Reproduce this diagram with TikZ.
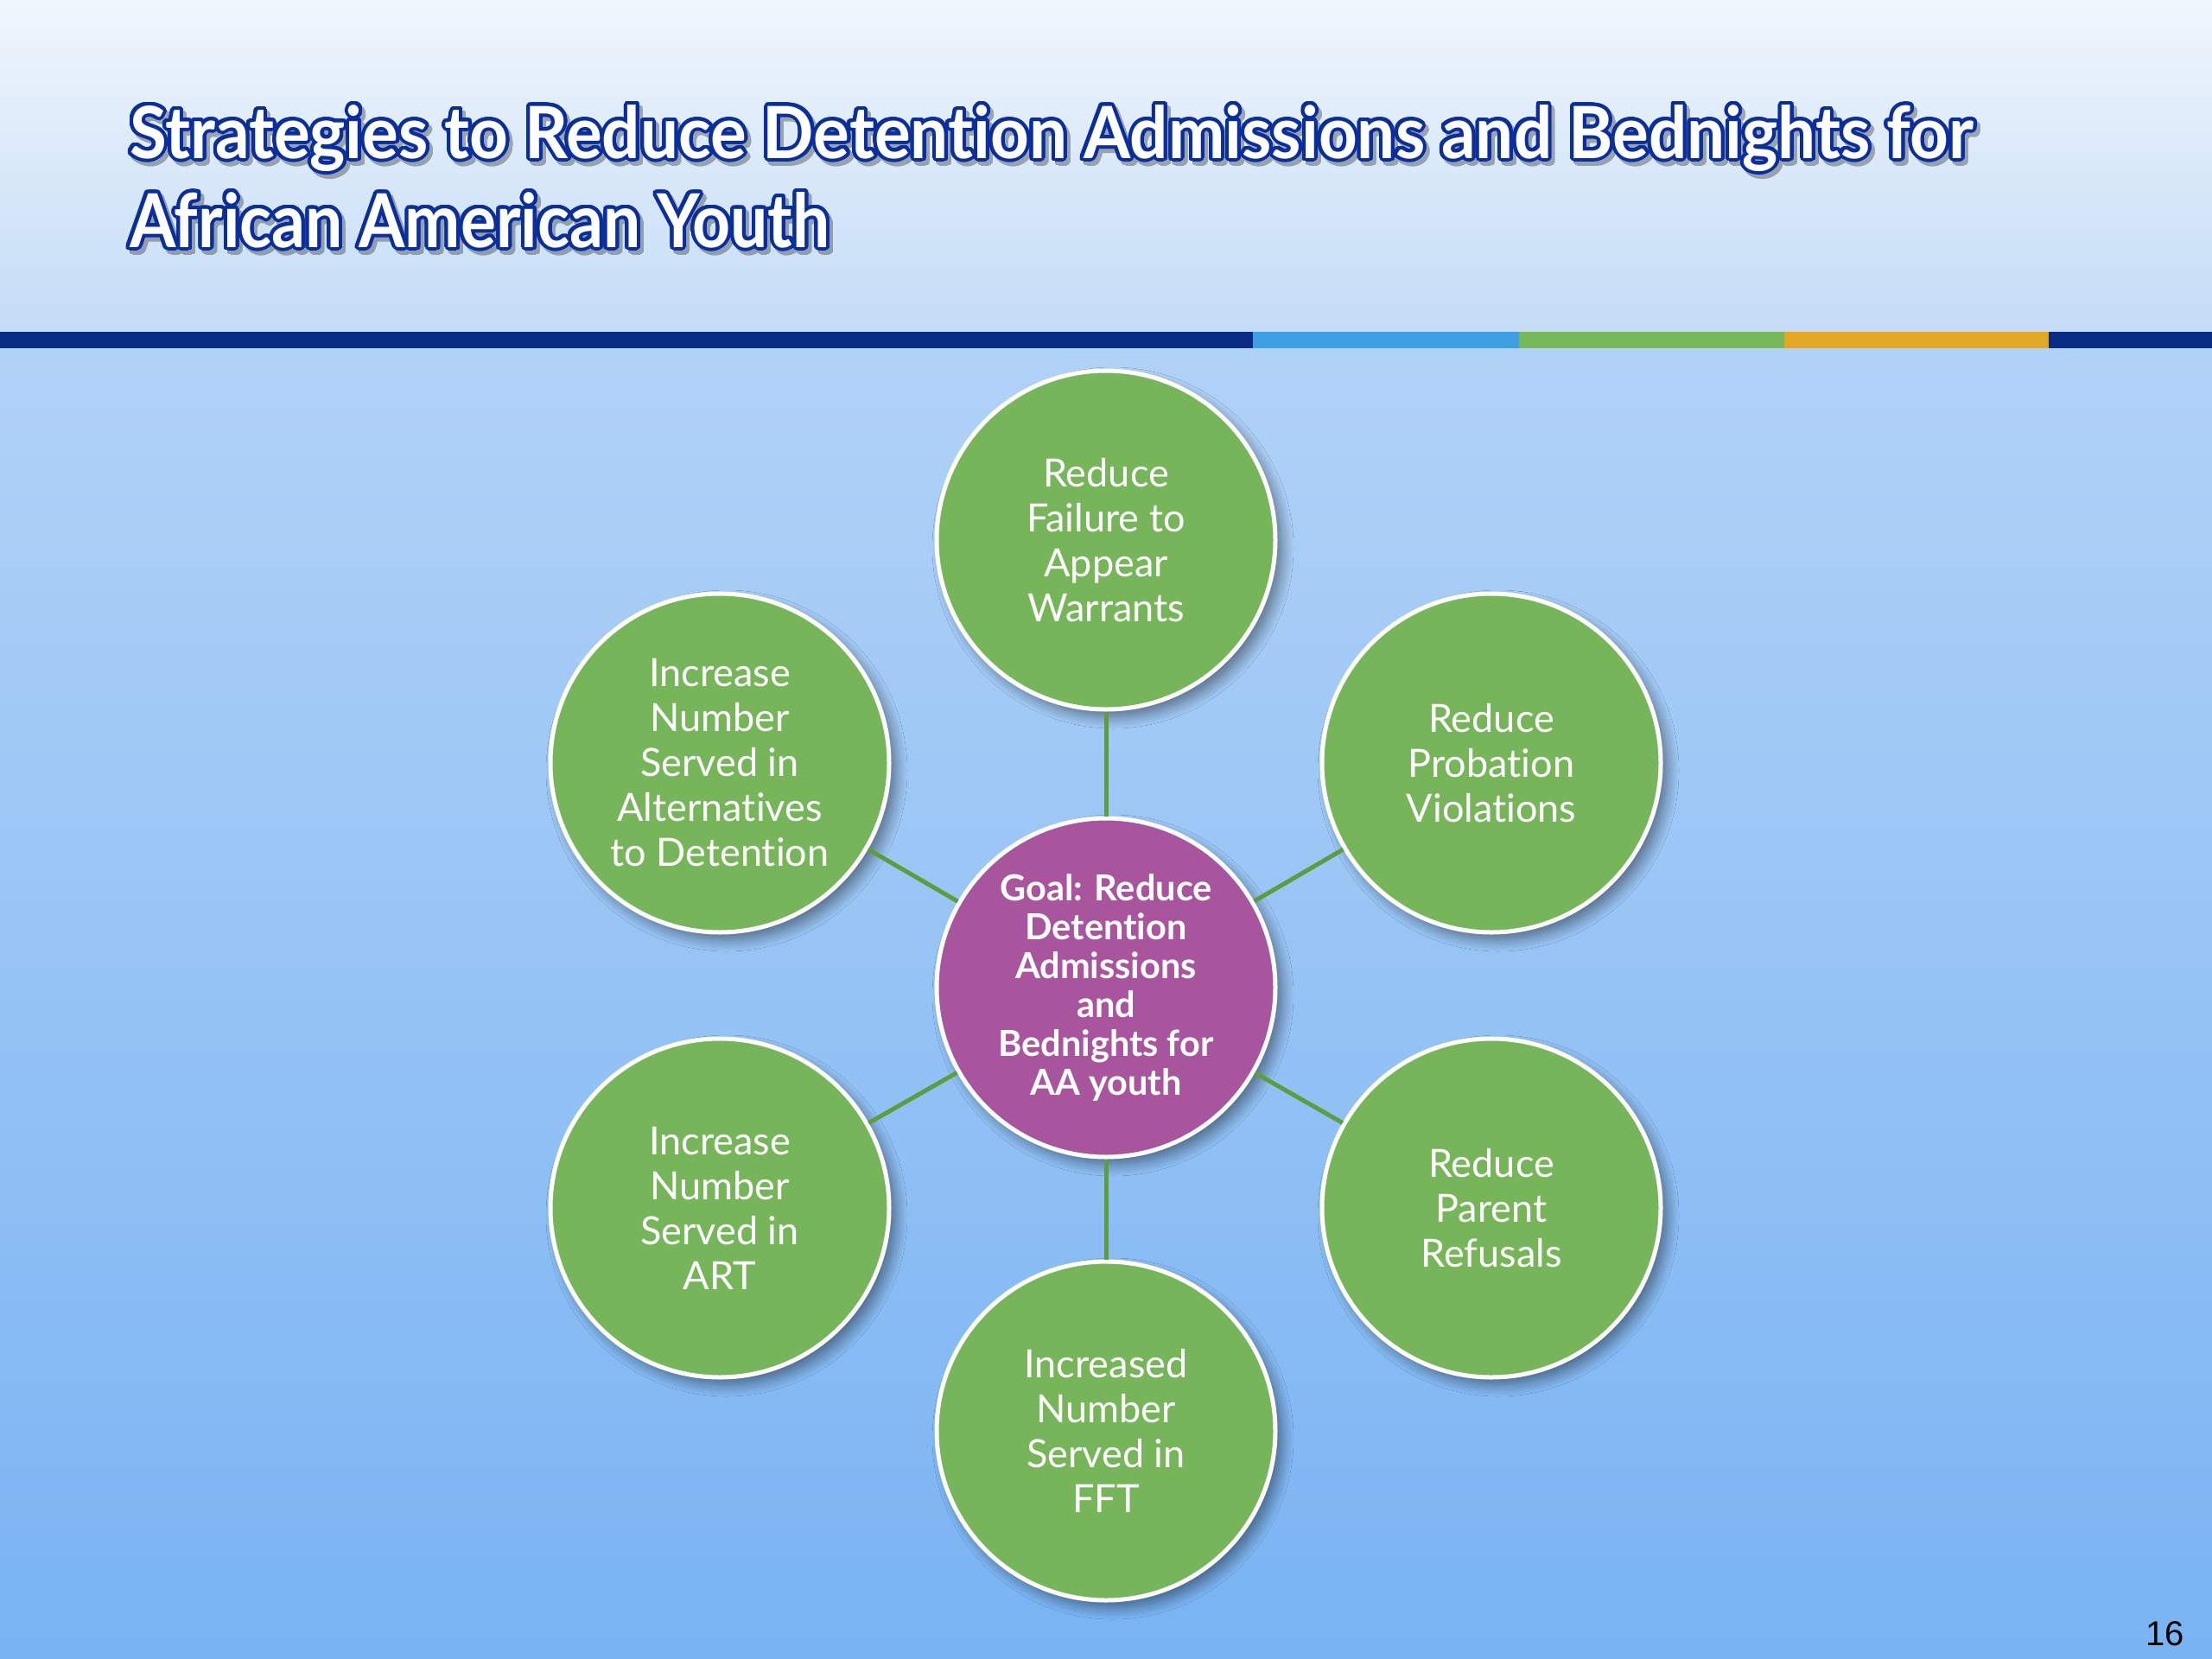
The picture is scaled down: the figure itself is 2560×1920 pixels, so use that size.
\documentclass[tikz,border=0pt]{standalone}
\usepackage{fontspec}
\usepackage{contour}
\usetikzlibrary{shadows.blur}
\setmainfont{Lato}[Ligatures=NoCommon]
\newfontfamily\numfont{Liberation Sans}
\definecolor{navy}{HTML}{0B2C84}
\definecolor{titleblue}{HTML}{0A2E9C}
\definecolor{barblue}{HTML}{3EA0E0}
\definecolor{bargreen}{HTML}{78B85A}
\definecolor{barorange}{HTML}{E3A724}
\definecolor{leafgreen}{HTML}{77B55A}
\definecolor{goalpurple}{HTML}{A8559D}
\definecolor{linkgreen}{HTML}{5E9C40}
\definecolor{topA}{HTML}{F0F6FD}
\definecolor{topB}{HTML}{C4DCF6}
\definecolor{botA}{HTML}{B1D2F7}
\definecolor{botB}{HTML}{79B3F3}
\contourlength{4pt}
\contournumber{32}
\begin{document}
\begin{tikzpicture}[x=1pt,y=-1pt,
  bubble/.style={circle, draw=white, line width=5pt, minimum size=392pt, inner sep=0pt,
    align=center, text=white,
    blur shadow={shadow xshift=8pt, shadow yshift=-9pt, shadow blur steps=12, shadow blur radius=13pt, shadow opacity=45}},
  leaf/.style={bubble, fill=leafgreen, font=\fontsize{45}{52}\selectfont},
  goal/.style={bubble, fill=goalpurple, font=\fontsize{41.5}{45}\selectfont\bfseries},
  link/.style={draw=linkgreen, line width=5pt},
  titletext/.style={anchor=base west, inner sep=0pt}]
\useasboundingbox (0,0) rectangle (2560,1920);
% background
\shade[top color=topA, bottom color=topB] (0,0) rectangle (2560,384);
\shade[top color=botA, bottom color=botB] (0,403) rectangle (2560,1920);
% bar
\fill[navy] (0,384) rectangle (1450,403);
\fill[barblue] (1450,384) rectangle (1758,403);
\fill[bargreen] (1758,384) rectangle (2065,403);
\fill[barorange] (2065,384) rectangle (2371,403);
\fill[navy] (2371,384) rectangle (2560,403);
% title shadow
\begin{scope}[transparency group, opacity=0.3]
\node[titletext, text=black] (ts1) at (154,188) {\contour{black}{\resizebox{2133pt}{62pt}{\bfseries Strategies to Reduce Detention Admissions and Bednights for}}};
\node[titletext, text=black] (ts2) at (154,291) {\contour{black}{\resizebox{810pt}{64pt}{\bfseries African American Youth}}};
\end{scope}
% title
\node[titletext, text=white] (t1) at (150,183) {\contour{titleblue}{\resizebox{2133pt}{62pt}{\bfseries Strategies to Reduce Detention Admissions and Bednights for}}};
\node[titletext, text=white] (t2) at (150,286) {\contour{titleblue}{\resizebox{810pt}{64pt}{\bfseries African American Youth}}};
% nodes
\node[goal] (g) at (1280,1143) {Goal: Reduce\\Detention\\Admissions\\and\\Bednights for\\AA youth};
\node[leaf] (n1) at (1280,625) {Reduce\\Failure to\\Appear\\Warrants};
\node[leaf] (n2) at (1726,883) {Reduce\\Probation\\Violations};
\node[leaf] (n3) at (1726,1398) {Reduce\\Parent\\Refusals};
\node[leaf] (n4) at (1280,1656) {Increased\\Number\\Served in\\FFT};
\node[leaf] (n5) at (833,1398) {Increase\\Number\\Served in\\ART};
\node[leaf] (n6) at (833,883) {Increase\\Number\\Served in\\Alternatives\\to Detention};
% links
\foreach \n in {n1,n2,n3,n4,n5,n6} \draw[link] (g) -- (\n);
% page number
\node[anchor=base east, inner sep=0pt, font=\numfont\fontsize{40}{40}\selectfont] (pg) at (2528,1904) {16};
\end{tikzpicture}
\end{document}
